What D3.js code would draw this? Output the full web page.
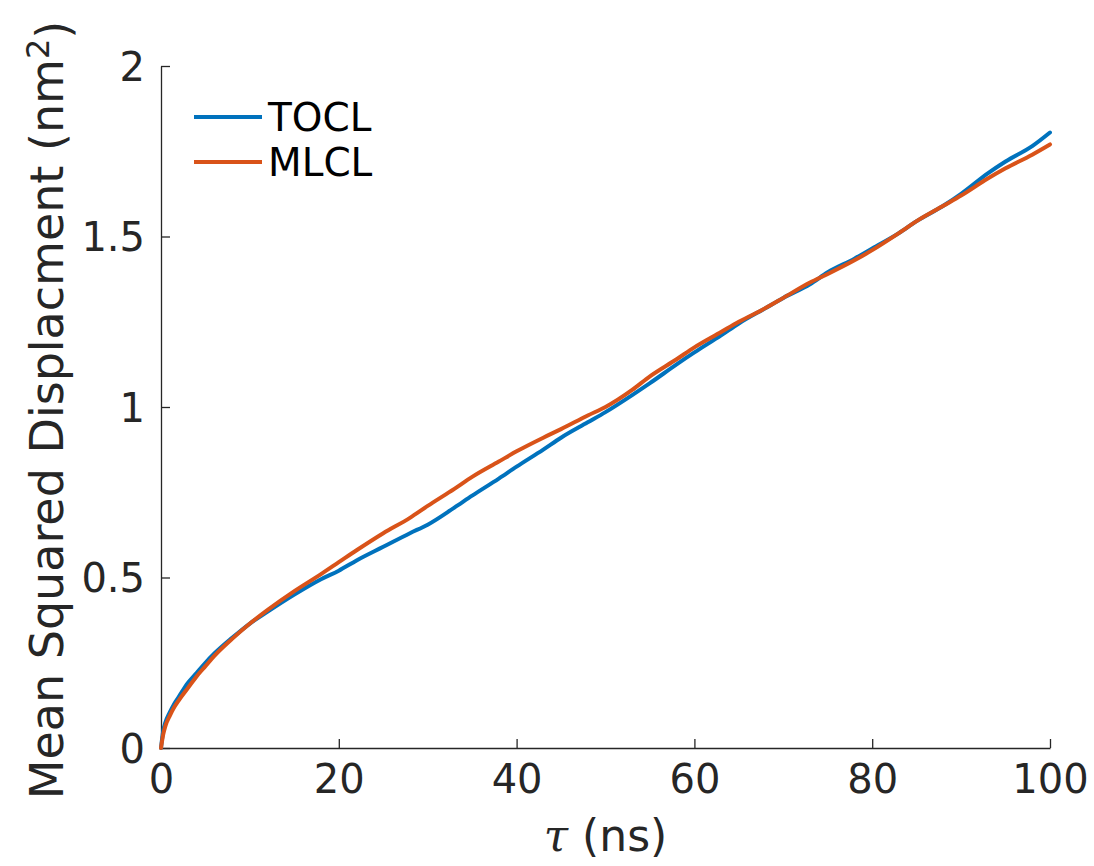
<!DOCTYPE html>
<html>
<head>
<meta charset="utf-8">
<script src="https://cdn.jsdelivr.net/npm/d3@7"></script>
<style>
  body { margin: 0; background: #fff; }
  svg text { font-family: "DejaVu Sans", sans-serif; }
</style>
</head>
<body>
<div id="chart"></div>
<script>
// lag times (ns)
var tau = [0, 0.25, 0.5, 1, 1.5, 2, 3, 4, 5, 6, 8, 10, 12, 15, 18, 20, 22, 25, 28, 30,
  33, 35, 38, 40, 43, 45, 48, 50, 53, 55, 58, 60, 63, 65, 68, 70, 73, 75, 78, 80,
  83, 85, 88, 90, 93, 95, 98, 100];

// MSD values (nm^2)
var tocl = [0, 0.05, 0.075, 0.105, 0.13, 0.15, 0.19, 0.22, 0.25, 0.277, 0.323, 0.365, 0.40, 0.45, 0.495, 0.52, 0.55, 0.59, 0.63, 0.655,
  0.705, 0.74, 0.79, 0.825, 0.875, 0.91, 0.955, 0.985, 1.035, 1.07, 1.125, 1.16, 1.21, 1.245, 1.29, 1.32, 1.36, 1.395, 1.435, 1.465,
  1.51, 1.545, 1.59, 1.625, 1.685, 1.72, 1.765, 1.805];

var mlcl = [0, 0.04, 0.065, 0.095, 0.12, 0.14, 0.175, 0.21, 0.24, 0.27, 0.32, 0.365, 0.405, 0.46, 0.51, 0.545, 0.58, 0.63, 0.675, 0.71,
  0.76, 0.795, 0.84, 0.87, 0.91, 0.935, 0.975, 1.0, 1.05, 1.09, 1.14, 1.175, 1.22, 1.25, 1.29, 1.32, 1.365, 1.39, 1.43, 1.46,
  1.51, 1.545, 1.59, 1.62, 1.67, 1.70, 1.74, 1.77];

var seriesNames = ["TOCL", "MLCL"];
var seriesColors = ["#0072BD", "#D95319"];
var xTicks = [0, 20, 40, 60, 80, 100];
var yTicks = [0, 0.5, 1, 1.5, 2];

var width = 1094, height = 866;
var margin = { top: 66, right: 44, bottom: 118, left: 161 };
var plotW = width - margin.left - margin.right,
    plotH = height - margin.top - margin.bottom;

var svg = d3.select("#chart").append("svg")
    .attr("width", width)
    .attr("height", height);

var g = svg.append("g")
    .attr("transform", "translate(" + margin.left + "," + margin.top + ")");

var x = d3.scaleLinear().domain([0, 100]).range([0, plotW]);
var y = d3.scaleLinear().domain([0, 2]).range([plotH, 0]);

var axisColor = "#262626";

// x axis, ticks pointing inward
var xAxis = g.append("g")
    .attr("transform", "translate(0," + plotH + ")")
    .call(d3.axisBottom(x).tickValues(xTicks).tickSizeInner(-9).tickSizeOuter(0).tickPadding(13)
        .tickFormat(d3.format("d")));

// y axis
var yAxis = g.append("g")
    .call(d3.axisLeft(y).tickValues(yTicks).tickSizeInner(-9).tickSizeOuter(0).tickPadding(16)
        .tickFormat(function(d) { return d3.format("")(d); }));

[xAxis, yAxis].forEach(function(a) {
    a.select(".domain").attr("stroke", axisColor).attr("stroke-width", 1.3);
    a.selectAll(".tick line").attr("stroke", axisColor).attr("stroke-width", 1.3);
    a.selectAll(".tick text")
        .attr("fill", axisColor)
        .style("font-size", "40px");
});
xAxis.selectAll(".tick text").attr("dy", "0.8em");
yAxis.selectAll(".tick text").attr("dy", "0.36em");

// lines
var series = [tocl, mlcl];
var line = d3.line()
    .x(function(d, i) { return x(tau[i]); })
    .y(function(d) { return y(d); })
    .curve(d3.curveMonotoneX);

series.forEach(function(s, k) {
    g.append("path")
        .datum(s)
        .attr("fill", "none")
        .attr("stroke", seriesColors[k])
        .attr("stroke-width", 4)
        .attr("stroke-linecap", "round")
        .attr("stroke-linejoin", "round")
        .attr("d", line);
});

// legend
var legend = svg.append("g").attr("transform", "translate(194,117)");
seriesNames.forEach(function(name, k) {
    var row = legend.append("g").attr("transform", "translate(0," + (k * 45) + ")");
    row.append("line")
        .attr("x1", 0).attr("x2", 68)
        .attr("stroke", seriesColors[k])
        .attr("stroke-width", 4);
    row.append("text")
        .attr("x", 74)
        .attr("dy", "0.36em")
        .style("font-size", "39px")
        .attr("fill", "#000")
        .text(name);
});

// axis labels
var xl = svg.append("text")
    .attr("x", margin.left + plotW / 2)
    .attr("y", 851)
    .attr("text-anchor", "middle")
    .attr("fill", axisColor)
    .style("font-size", "44px");
xl.append("tspan").style("font-family", "'DejaVu Serif', serif").style("font-style", "italic").text("τ");
xl.append("tspan").text(" (ns)");

var yl = svg.append("text")
    .attr("transform", "translate(63," + (margin.top + plotH / 2 + 3) + ") rotate(-90)")
    .attr("text-anchor", "middle")
    .attr("fill", axisColor)
    .style("font-size", "46px");
yl.append("tspan").text("Mean Squared Displacment (nm");
yl.append("tspan").attr("dy", "-0.45em").style("font-size", "32px").text("2");
yl.append("tspan").attr("dy", "0.45em").text(")");
</script>
</body>
</html>
